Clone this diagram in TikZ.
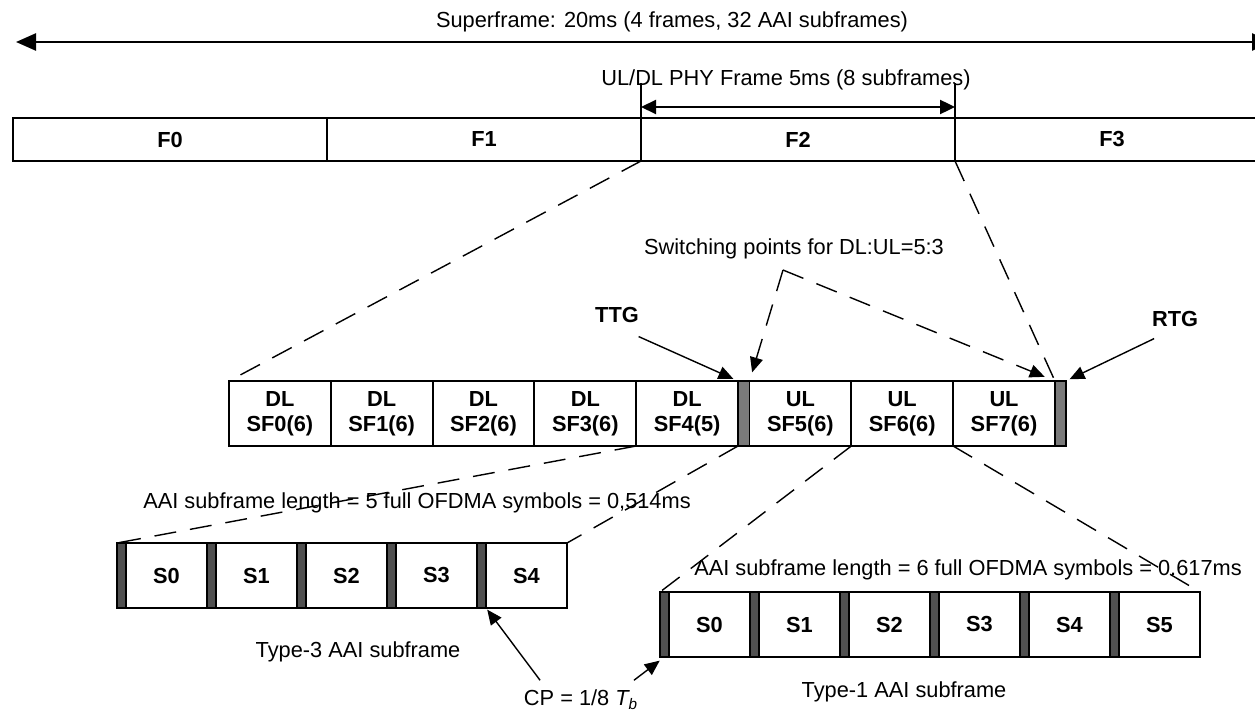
\documentclass[tikz,border=0pt]{standalone}
\usepackage{fontspec}
\setmainfont{Liberation Sans}
\usetikzlibrary{arrows.meta,positioning}
\definecolor{CpGray}{HTML}{505050}
\definecolor{GapGray}{HTML}{7A7A7A}

\begin{document}
\begin{tikzpicture}[x=0.2mm, y=-0.2mm, node distance=0pt,
  lbl/.style={font=\fontsize{12.4}{14.2}\selectfont, inner sep=2pt},
  boldlbl/.style={lbl, font=\fontsize{12.4}{14.2}\selectfont\bfseries},
  frame/.style={draw, line width=1.1pt, minimum width=62.8mm, minimum height=8.6mm,
    outer sep=0pt, font=\fontsize{12.4}{14.2}\selectfont\bfseries},
  sfbox/.style={draw, line width=1.1pt, minimum width=20.36mm, minimum height=13mm,
    outer sep=0pt, inner sep=1pt, align=center, font=\fontsize{12.4}{14.2}\selectfont\bfseries},
  gapbar/.style={draw, fill=GapGray, line width=1.1pt, minimum width=2.3mm,
    minimum height=13mm, inner sep=0pt, outer sep=0pt},
  cpbar/.style={draw, fill=CpGray, line width=1.1pt, minimum width=1.8mm,
    minimum height=13mm, inner sep=0pt, outer sep=0pt},
  sym/.style={draw, line width=1.1pt, minimum width=16.2mm, minimum height=13mm,
    outer sep=0pt, font=\fontsize{12.4}{14.2}\selectfont\bfseries},
  zoomline/.style={dash pattern=on 4.4mm off 2.8mm, line width=0.8pt},
  ptr/.style={line width=0.8pt, -{Triangle[length=3mm, width=2.6mm]}},
  swarrow/.style={zoomline, -{Triangle[length=3mm, width=2.6mm]}},
  dblarrow/.style={line width=1.3pt,
    {Triangle[length=3mm, width=2.8mm]}-{Triangle[length=3mm, width=2.8mm]}},
  widearrow/.style={line width=1.4pt,
    {Triangle[length=4mm, width=3.4mm]}-{Triangle[length=4mm, width=3.4mm]}}]
  \useasboundingbox (0,0) rectangle (1255,717);
  \clip (0,0) rectangle (1255,717);

  % superframe
  \node[lbl] (super) at (672,22) {Superframe: 20ms (4 frames, 32 AAI subframes)};
  \coordinate (supL) at (16,42);
  \coordinate (supR) at (1272,42);
  \draw[widearrow] (supL) -- (supR);

  % frames
  \node[frame, anchor=north west] (f0) at (13,118) {F0};
  \node[frame, right=of f0] (f1) {F1};
  \node[frame, right=of f1] (f2) {F2};
  \node[frame, right=of f2] (f3) {F3};

  \node[lbl] (phy) at (786,80) {UL/DL PHY Frame 5ms (8 subframes)};
  \draw[line width=1.1pt] (f2.north west) -- ++(0,-35);
  \draw[line width=1.1pt] (f2.north east) -- ++(0,-35);
  \draw[dblarrow] ([shift={(0,-11)}]f2.north west) -- ([shift={(0,-11)}]f2.north east);

  % subframes of F2
  \node[sfbox, anchor=north west] (sf0) at (229,381) {DL\\SF0(6)};
  \node[sfbox, right=of sf0] (sf1) {DL\\SF1(6)};
  \node[sfbox, right=of sf1] (sf2) {DL\\SF2(6)};
  \node[sfbox, right=of sf2] (sf3) {DL\\SF3(6)};
  \node[sfbox, right=of sf3] (sf4) {DL\\SF4(5)};
  \node[gapbar, right=of sf4] (ttg) {};
  \node[sfbox, right=of ttg] (sf5) {UL\\SF5(6)};
  \node[sfbox, right=of sf5] (sf6) {UL\\SF6(6)};
  \node[sfbox, right=of sf6] (sf7) {UL\\SF7(6)};
  \node[gapbar, minimum width=2.2mm, right=of sf7] (rtg) {};

  \draw[zoomline] (f2.south west) -- (sf0.north west);
  \draw[zoomline] (f2.south east) -- (sf7.north east);

  % gaps and switching points
  \node[boldlbl] (ttglbl) at (617,315) {TTG};
  \node[boldlbl] (rtglbl) at (1175,319) {RTG};
  \draw[ptr, shorten >=1mm] ([shift={(-4,10)}]ttglbl.south east) -- (ttg.north west);
  \draw[ptr, shorten >=0.8mm] ([shift={(6,8)}]rtglbl.south west) -- (rtg.north east);

  \node[lbl] (swlbl) at (794,249) {Switching points for DL:UL=5:3};
  \coordinate (swpt) at ([shift={(-11,7)}]swlbl.south);
  \draw[swarrow, shorten >=1.8mm] (swpt) -- (ttg.north east);
  \draw[swarrow, shorten >=2.2mm] (swpt) -- (sf7.north east);

  % type-3 subframe
  \foreach \i in {0,...,4} {
    \node[cpbar, anchor=north west] (t3cp\i) at (117+90*\i,543) {};
    \node[sym, right=of t3cp\i] (t3s\i) {S\i};
  }
  \node[lbl] (len3) at (417,503) {AAI subframe length = 5 full OFDMA symbols = 0,514ms};
  \node[lbl] (t3name) at (358,652) {Type-3 AAI subframe};
  \draw[zoomline] (sf4.south west) -- (t3cp0.north west);
  \draw[zoomline] (ttg.south west) -- (t3s4.north east);

  % type-1 subframe
  \foreach \i in {0,...,5} {
    \node[cpbar, anchor=north west] (t1cp\i) at (660+90*\i,592) {};
    \node[sym, right=of t1cp\i] (t1s\i) {S\i};
  }
  \node[lbl] (len1) at (968,570) {AAI subframe length = 6 full OFDMA symbols = 0.617ms};
  \node[lbl] (t1name) at (904,692) {Type-1 AAI subframe};
  \draw[zoomline] (sf6.south west) -- (t1cp0.north west);
  \draw[zoomline] (sf7.south west) -- (t1s5.north east);

  % cyclic prefix
  \node[lbl] (cplbl) at (581,700) {CP = 1/8 \textit{T\textsubscript{b}}};
  \draw[ptr, shorten >=0.4mm] ([shift={(20,-6)}]cplbl.north west) -- (t3cp4.south east);
  \draw[ptr, shorten >=1.2mm] ([shift={(-8,-6)}]cplbl.north east) -- (t1cp0.south);
\end{tikzpicture}
\end{document}
